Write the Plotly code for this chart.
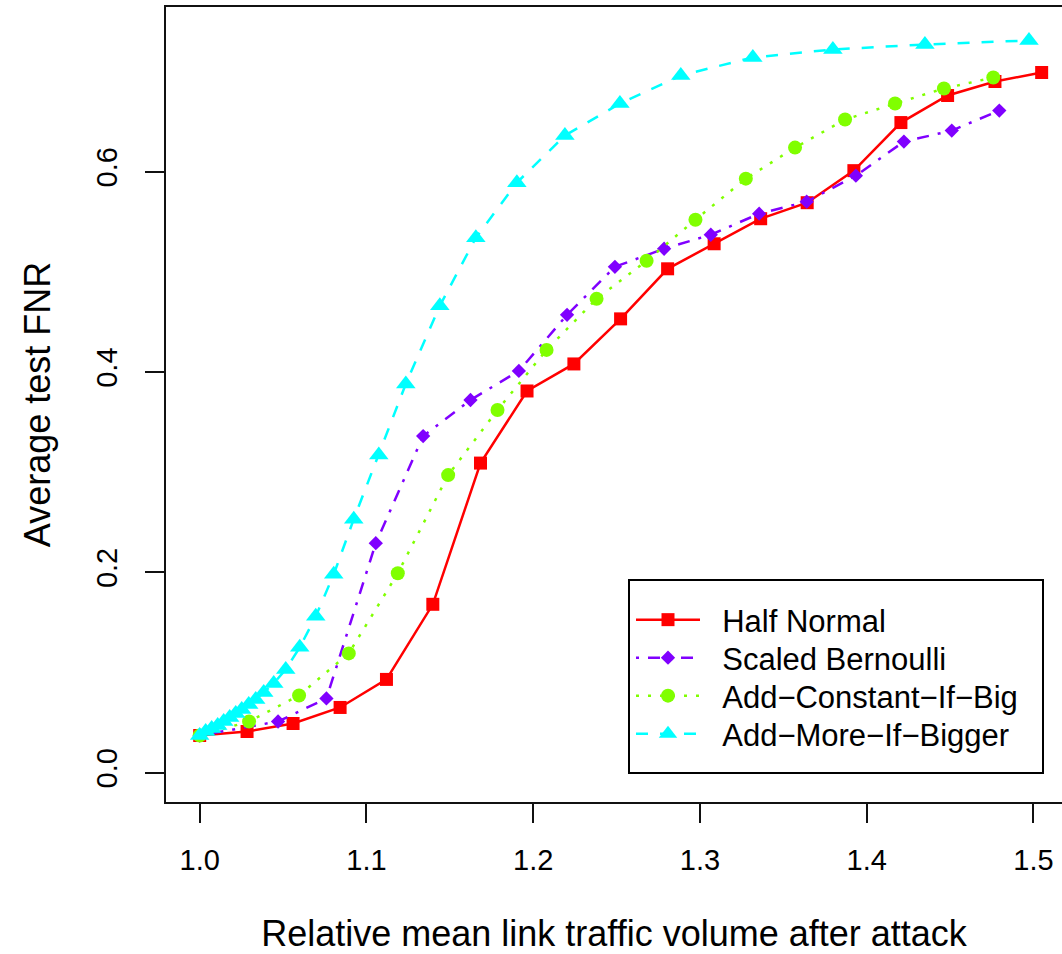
import plotly.graph_objects as go

# ---- data ----
hn_x = [1.0, 1.0284, 1.056, 1.0842, 1.112, 1.1398, 1.1684, 1.1963, 1.2244, 1.2524,
        1.2806, 1.3085, 1.3364, 1.3643, 1.3923, 1.4205, 1.4485, 1.4769, 1.5049]
hn_y = [0.037, 0.041, 0.049, 0.065, 0.093, 0.168, 0.309, 0.381, 0.408, 0.453,
        0.503, 0.528, 0.553, 0.569, 0.601, 0.649, 0.676, 0.690, 0.699]

sb_x = [1.0, 1.047, 1.076, 1.1056, 1.134, 1.1624, 1.1914, 1.2203, 1.249, 1.2785,
        1.3065, 1.3355, 1.364, 1.3935, 1.4223, 1.451, 1.4795]
sb_y = [0.037, 0.051, 0.074, 0.229, 0.336, 0.372, 0.401, 0.457, 0.505, 0.523,
        0.537, 0.558, 0.570, 0.596, 0.630, 0.641, 0.661]

acb_x = [1.0, 1.0296, 1.0596, 1.0894, 1.1188, 1.149, 1.1786, 1.208, 1.238, 1.268,
         1.2973, 1.3275, 1.357, 1.387, 1.417, 1.4463, 1.4759]
acb_y = [0.037, 0.051, 0.077, 0.119, 0.199, 0.297, 0.362, 0.422, 0.473, 0.511,
         0.552, 0.593, 0.624, 0.652, 0.668, 0.683, 0.694]

amb_x = [1.0, 1.0036, 1.0072, 1.0108, 1.0144, 1.018, 1.0216, 1.0252, 1.0294, 1.0336,
         1.0384, 1.0444, 1.0516, 1.06, 1.0696, 1.0804, 1.0924, 1.1074, 1.1236, 1.144,
         1.1656, 1.1902, 1.219, 1.252, 1.2885, 1.3317, 1.3797, 1.4349, 1.4973]
amb_y = [0.037, 0.041, 0.044, 0.047, 0.051, 0.055, 0.059, 0.063, 0.068, 0.073,
         0.080, 0.089, 0.103, 0.125, 0.156, 0.198, 0.253, 0.317, 0.388, 0.466,
         0.534, 0.589, 0.636, 0.668, 0.696, 0.714, 0.722, 0.727, 0.731]

series_names = ["Half Normal", "Scaled Bernoulli", "Add\u2212Constant\u2212If\u2212Big", "Add\u2212More\u2212If\u2212Bigger"]
x_ticks = [1.0, 1.1, 1.2, 1.3, 1.4, 1.5]
x_ticktext = ["1.0", "1.1", "1.2", "1.3", "1.4", "1.5"]
y_ticks = [0.0, 0.2, 0.4, 0.6]
y_ticktext = ["0.0", "0.2", "0.4", "0.6"]

FONT = "Liberation Sans, Arial, Helvetica, sans-serif"
PAD = "\u00a0\u00a0"

W, H = 1062, 954
L, R, T, B = 166, 0, 7, 152
pw, ph = W - L - R, H - T - B

def px_x(p):
    return (p - L) / pw

def px_y(p):
    return (H - B - p) / ph

fig = go.Figure()
fig.add_trace(go.Scatter(x=hn_x, y=hn_y, name=PAD + series_names[0], mode="lines+markers",
                         legend="legend",
                         line=dict(color="#FF0000", width=2.5, dash="solid"),
                         marker=dict(symbol="square", size=13, color="#FF0000")))
fig.add_trace(go.Scatter(x=sb_x, y=sb_y, name=PAD + series_names[1], mode="lines+markers",
                         legend="legend2",
                         line=dict(color="#8000FF", width=2.5, dash="3px,9px,12px,9px"),
                         marker=dict(symbol="diamond", size=11, color="#8000FF")))
fig.add_trace(go.Scatter(x=acb_x, y=acb_y, name=PAD + series_names[2], mode="lines+markers",
                         legend="legend3",
                         line=dict(color="#80FF00", width=2.5, dash="3px,9px"),
                         marker=dict(symbol="circle", size=14, color="#80FF00")))
fig.add_trace(go.Scatter(x=amb_x, y=amb_y, name=PAD + series_names[3], mode="lines+markers",
                         legend="legend4",
                         line=dict(color="#00FFFF", width=2.5, dash="12px,12px"),
                         marker=dict(symbol="triangle-up", size=17, color="#00FFFF")))

fig.add_shape(type="rect", xref="paper", yref="paper",
              x0=px_x(629), x1=px_x(1043), y0=px_y(773), y1=px_y(580),
              line=dict(color="black", width=2), fillcolor="rgba(0,0,0,0)")

def leg(center_y):
    return dict(x=px_x(631), y=px_y(center_y), xanchor="left", yanchor="middle",
                bgcolor="rgba(0,0,0,0)", borderwidth=0,
                font=dict(size=31, family=FONT), itemwidth=64)

fig.update_layout(
    width=W, height=H,
    margin=dict(l=L, r=R, t=T, b=B),
    paper_bgcolor="white", plot_bgcolor="white",
    font=dict(family=FONT, color="black"),
    showlegend=True,
    legend=leg(620), legend2=leg(658), legend3=leg(696), legend4=leg(734),
    xaxis=dict(range=[0.9798, 1.5171], tickvals=x_ticks, ticktext=x_ticktext,
               showgrid=False, zeroline=False, showline=True, mirror=True,
               linecolor="#111", linewidth=2, ticks="outside", ticklen=19,
               tickwidth=2, tickcolor="#111", tickfont=dict(size=29),
               ticklabelstandoff=12,
               title=dict(text="Relative mean link traffic volume after attack",
                          font=dict(size=36), standoff=46)),
    yaxis=dict(range=[-0.0294, 0.7644], tickvals=y_ticks, ticktext=y_ticktext,
               showgrid=False, zeroline=False, showline=True, mirror=False,
               linecolor="#111", linewidth=2, ticks="outside", ticklen=19,
               tickwidth=2, tickcolor="#111", tickfont=dict(size=29),
               tickangle=-90, ticklabelstandoff=16,
               title=dict(text="Average test FNR", font=dict(size=36), standoff=30)),
)

fig.write_html("out.html", config={"displayModeBar": False})
